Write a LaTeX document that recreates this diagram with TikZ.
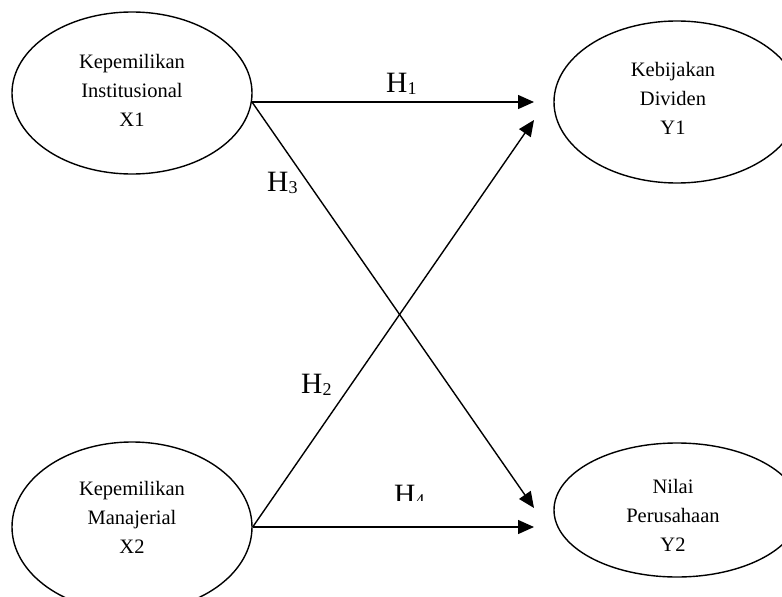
\documentclass[tikz,border=0pt]{standalone}
\usepackage{fontspec}
\setmainfont{Liberation Serif}
\usetikzlibrary{shapes.geometric,arrows.meta}
\tikzset{
  var/.style={draw=black, line width=1.4pt, ellipse, inner sep=0pt},
  vtext/.style={align=center, inner sep=0pt, font=\fontsize{20.5}{29}\selectfont},
  hyp/.style={line width=1.4pt, -{Triangle[length=16pt,width=14pt]}},
  hlab/.style={anchor=base west, inner sep=0pt, font=\fontsize{29.5}{30}\selectfont},
}
\newcommand{\hsub}[1]{H\raisebox{-2.5pt}{\fontsize{18}{18}\selectfont #1}}
\begin{document}
\begin{tikzpicture}[x=1pt,y=-1pt]
\useasboundingbox (0,0) rectangle (782,597);
\fill[white] (0,0) rectangle (782,597);
% ellipses
\node[var, minimum width=240pt, minimum height=162pt] (x1) at (132,93) {};
\node[var, minimum width=246pt, minimum height=162pt] (y1) at (677,102) {};
\node[var, minimum width=240pt, minimum height=170pt] (x2) at (132,527) {};
\node[var, minimum width=246pt, minimum height=134pt] (y2) at (677,510) {};
% texts
\node[vtext] (x1t) at (132,90) {Kepemilikan\\Institusional\\X1};
\node[vtext] (y1t) at (673,98) {Kebijakan\\Dividen\\Y1};
\node[vtext] (x2t) at (132,517) {Kepemilikan\\Manajerial\\X2};
\node[vtext] (y2t) at (673,515) {Nilai\\Perusahaan\\Y2};
% arrow ends
\coordinate (e1) at (534,102);
\coordinate (e2) at (534,120);
\coordinate (e3) at (534,508);
\coordinate (e4) at (534,527);
\coordinate (s1) at (252,102);
% arrows
\draw[hyp] (s1) -- (e1);
\draw[hyp] (s1) -- (e3);
\draw[hyp] (x2.east) -- (e2);
\draw[hyp] (x2.east) -- (e4);
% labels
\node[hlab] (h1) at (386,92) {\hsub{1}};
\node[hlab] (h3) at (267,191) {\hsub{3}};
\node[hlab] (h2) at (301,393) {\hsub{2}};
\begin{scope}
\clip (380,470) rectangle (440,500);
\node[hlab] (h4) at (394,504) {\hsub{4}};
\end{scope}
\end{tikzpicture}
\end{document}
